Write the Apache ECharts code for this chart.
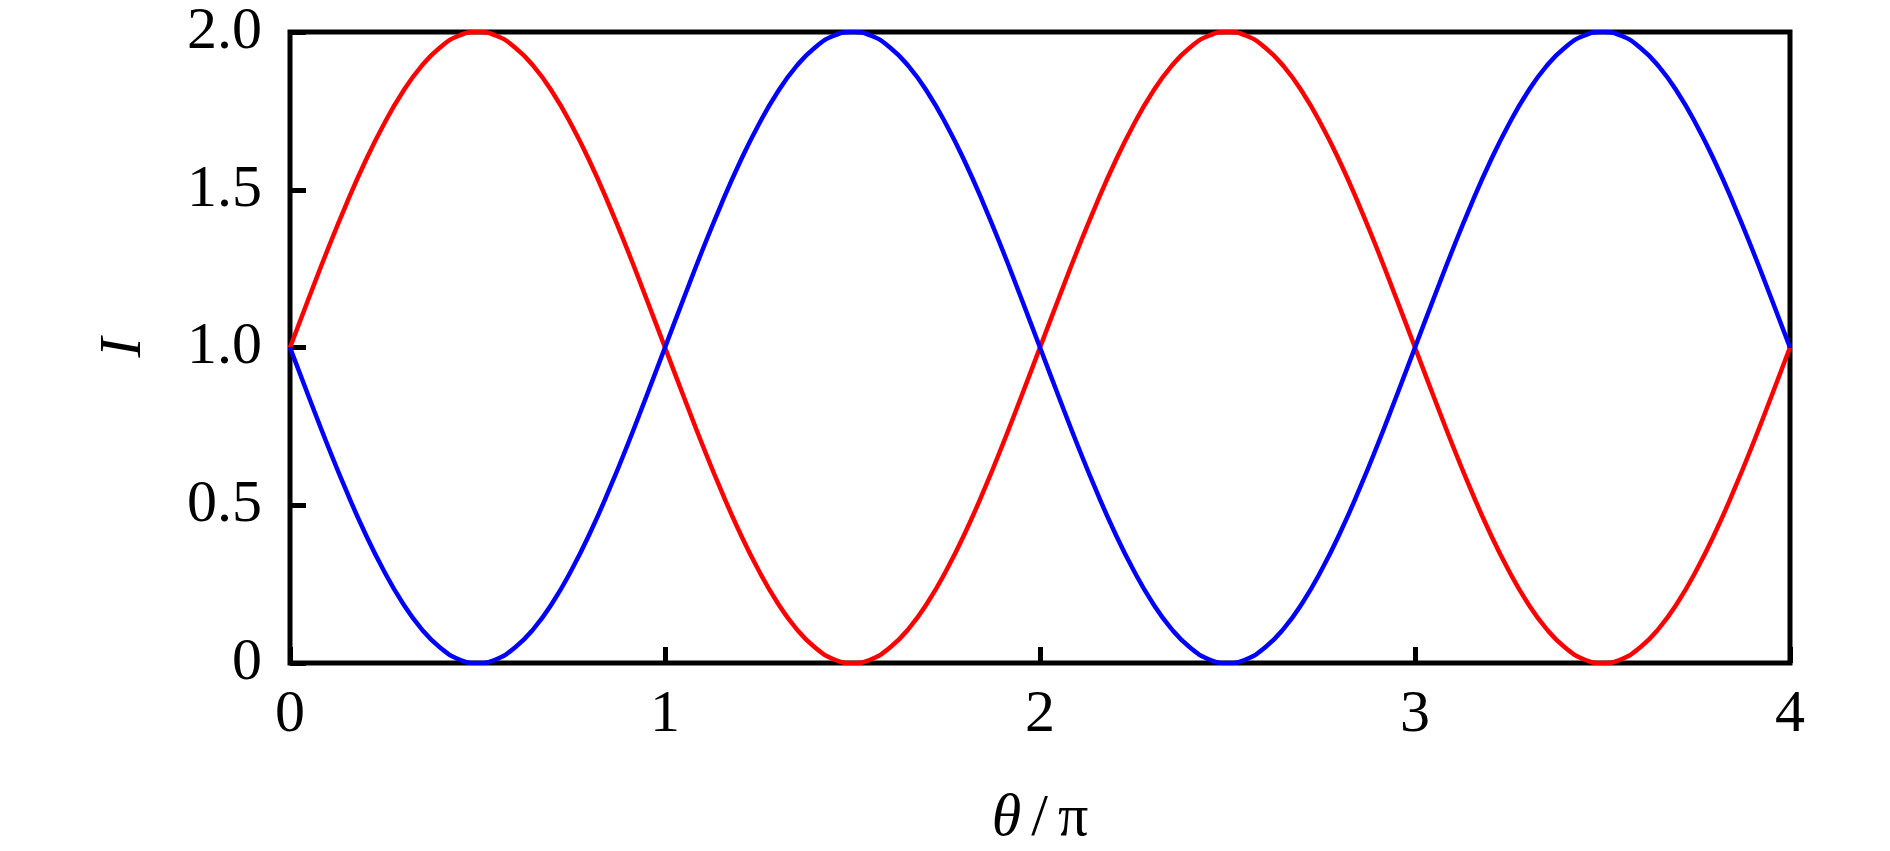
<!DOCTYPE html>
<html>
<head>
<meta charset="utf-8">
<script src="https://cdn.jsdelivr.net/npm/echarts@6/dist/echarts.min.js"></script>
<style>html,body{margin:0;padding:0;background:#fff;}#c{width:1890px;height:851px;}</style>
</head>
<body>
<div id="c"></div>
<script>
// theta / pi sample positions
const thetaOverPi = [
  0.00,0.05,0.10,0.15,0.20,0.25,0.30,0.35,0.40,0.45,0.50,0.55,0.60,0.65,0.70,0.75,0.80,0.85,0.90,0.95,
  1.00,1.05,1.10,1.15,1.20,1.25,1.30,1.35,1.40,1.45,1.50,1.55,1.60,1.65,1.70,1.75,1.80,1.85,1.90,1.95,
  2.00,2.05,2.10,2.15,2.20,2.25,2.30,2.35,2.40,2.45,2.50,2.55,2.60,2.65,2.70,2.75,2.80,2.85,2.90,2.95,
  3.00,3.05,3.10,3.15,3.20,3.25,3.30,3.35,3.40,3.45,3.50,3.55,3.60,3.65,3.70,3.75,3.80,3.85,3.90,3.95,
  4.00
];
// red curve values
const redI = [
  1.000,1.156,1.309,1.454,1.588,1.707,1.809,1.891,1.951,1.988,2.000,1.988,1.951,1.891,1.809,1.707,1.588,1.454,1.309,1.156,
  1.000,0.844,0.691,0.546,0.412,0.293,0.191,0.109,0.049,0.012,0.000,0.012,0.049,0.109,0.191,0.293,0.412,0.546,0.691,0.844,
  1.000,1.156,1.309,1.454,1.588,1.707,1.809,1.891,1.951,1.988,2.000,1.988,1.951,1.891,1.809,1.707,1.588,1.454,1.309,1.156,
  1.000,0.844,0.691,0.546,0.412,0.293,0.191,0.109,0.049,0.012,0.000,0.012,0.049,0.109,0.191,0.293,0.412,0.546,0.691,0.844,
  1.000
];
// blue curve values
const blueI = [
  1.000,0.844,0.691,0.546,0.412,0.293,0.191,0.109,0.049,0.012,0.000,0.012,0.049,0.109,0.191,0.293,0.412,0.546,0.691,0.844,
  1.000,1.156,1.309,1.454,1.588,1.707,1.809,1.891,1.951,1.988,2.000,1.988,1.951,1.891,1.809,1.707,1.588,1.454,1.309,1.156,
  1.000,0.844,0.691,0.546,0.412,0.293,0.191,0.109,0.049,0.012,0.000,0.012,0.049,0.109,0.191,0.293,0.412,0.546,0.691,0.844,
  1.000,1.156,1.309,1.454,1.588,1.707,1.809,1.891,1.951,1.988,2.000,1.988,1.951,1.891,1.809,1.707,1.588,1.454,1.309,1.156,
  1.000
];
const xTickLabels = {0:'0',1:'1',2:'2',3:'3',4:'4'};
const yTickLabels = {0:'0',0.5:'0.5',1:'1.0',1.5:'1.5',2:'2.0'};

const FONT = '"Liberation Serif", "DejaVu Serif", serif';
const chart = echarts.init(document.getElementById('c'), null, {renderer:'canvas'});
const pairs = arr => thetaOverPi.map((x,i)=>[x, arr[i]]);
chart.setOption({
  animation:false,
  backgroundColor:'#fff',
  grid:{left:290,right:100,top:32,bottom:188,containLabel:false,outerBoundsMode:'none',show:true,borderColor:'#000',borderWidth:5,backgroundColor:'transparent'},
  xAxis:{
    type:'value',min:0,max:4,interval:1,
    name:'{i|θ}{s|/}π',nameLocation:'middle',nameGap:126,
    nameTextStyle:{fontFamily:FONT,fontSize:60,color:'#000',rich:{
      i:{fontFamily:FONT,fontSize:60,fontStyle:'italic',color:'#000'},
      s:{fontFamily:FONT,fontSize:60,color:'#000',padding:[0,10,0,10]}
    }},
    axisLine:{show:false},
    axisTick:{show:true,inside:true,length:16,lineStyle:{color:'#000',width:5}},
    axisLabel:{margin:22,fontFamily:FONT,fontSize:60,color:'#000',formatter:v=>xTickLabels[v] ?? ''},
    splitLine:{show:false}
  },
  yAxis:{
    type:'value',min:0,max:2,interval:0.5,
    name:'I',nameLocation:'middle',nameGap:136,nameRotate:90,
    nameTextStyle:{fontFamily:FONT,fontSize:60,fontStyle:'italic',color:'#000'},
    axisLine:{show:false},
    axisTick:{show:true,inside:true,length:16,lineStyle:{color:'#000',width:5}},
    axisLabel:{margin:28,fontFamily:FONT,fontSize:60,color:'#000',formatter:v=>yTickLabels[v] ?? ''},
    splitLine:{show:false}
  },
  series:[
    {type:'line',data:pairs(redI),showSymbol:false,smooth:true,lineStyle:{color:'#ff0000',width:4.5},itemStyle:{color:'#ff0000'},z:3},
    {type:'line',data:pairs(blueI),showSymbol:false,smooth:true,lineStyle:{color:'#0000ff',width:4.5},itemStyle:{color:'#0000ff'},z:3}
  ]
});
</script>
</body>
</html>
